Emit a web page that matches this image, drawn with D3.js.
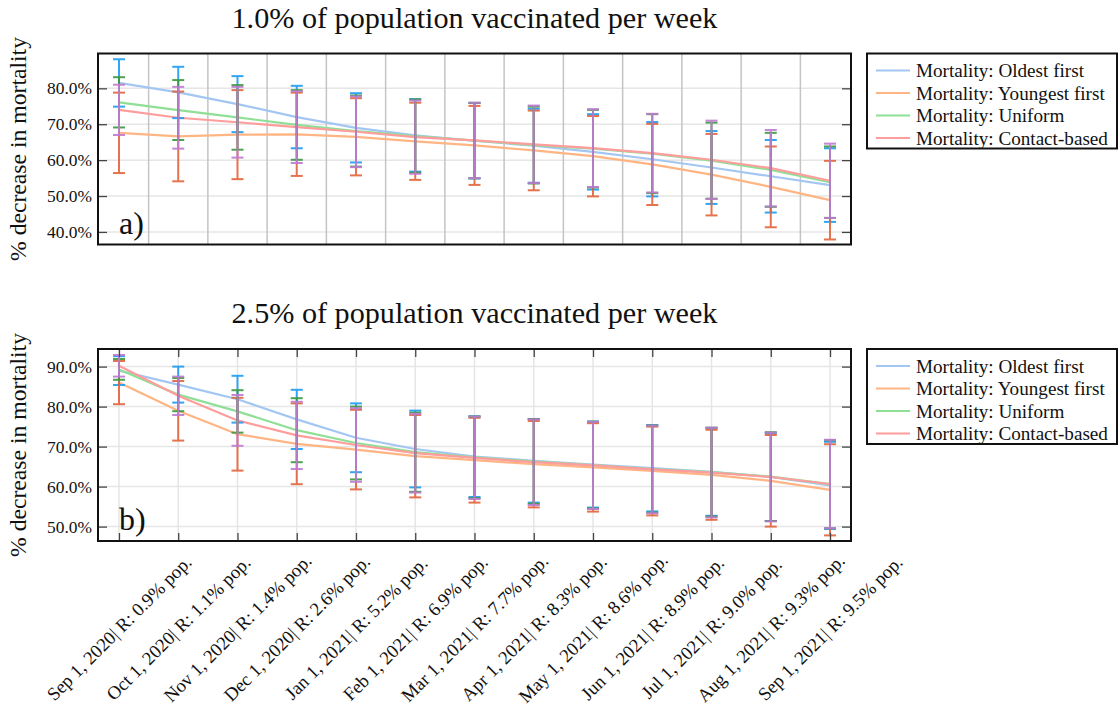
<!DOCTYPE html>
<html>
<head>
<meta charset="utf-8">
<script src="https://cdn.jsdelivr.net/npm/d3@7"></script>
<style>
  html, body { margin: 0; padding: 0; background: #fff; }
  svg { display: block; }
</style>
</head>
<body>
<svg id="chart" width="1119" height="709"></svg>
<script>
// Month labels with the share of the population already recovered (R)
const categories = [
  "Sep 1, 2020| R: 0.9% pop.", "Oct 1, 2020| R: 1.1% pop.", "Nov 1, 2020| R: 1.4% pop.",
  "Dec 1, 2020| R: 2.6% pop.", "Jan 1, 2021| R: 5.2% pop.", "Feb 1, 2021| R: 6.9% pop.",
  "Mar 1, 2021| R: 7.7% pop.", "Apr 1, 2021| R: 8.3% pop.", "May 1, 2021| R: 8.6% pop.",
  "Jun 1, 2021| R: 8.9% pop.", "Jul 1, 2021| R: 9.0% pop.", "Aug 1, 2021| R: 9.3% pop.",
  "Sep 1, 2021| R: 9.5% pop."
];

const seriesNames = [
  "Mortality: Oldest first", "Mortality: Youngest first",
  "Mortality: Uniform", "Mortality: Contact-based"
];

// 1.0% of population vaccinated per week: mean decrease and error half-width
const a_oldest    = [81.5, 78.85, 75.6, 72.0, 69.0, 66.9, 65.4, 64.0, 62.3, 60.25, 57.95, 55.5, 53.05];
const a_oldestErr = [6.6, 7.15, 7.8, 8.7, 9.65, 10.1, 10.5, 10.3, 10.5, 10.35, 10.15, 10.1, 10.25];
const a_young     = [67.6, 66.6, 67.1, 67.2, 66.5, 65.25, 64.1, 62.7, 61.1, 58.8, 55.95, 52.55, 48.85];
const a_youngErr  = [11.2, 12.5, 12.4, 11.6, 10.75, 10.75, 11.0, 11.1, 11.2, 11.3, 11.35, 11.25, 10.95];
const a_uniform   = [76.1, 73.95, 71.9, 69.8, 68.1, 66.7, 65.45, 64.2, 63.2, 61.8, 59.85, 57.3, 53.85];
const a_uniformErr= [7.0, 8.35, 9.0, 9.7, 9.9, 10.2, 10.5, 10.7, 10.8, 11.0, 10.6, 10.3, 9.95];
const a_contact   = [74.0, 71.8, 70.55, 69.2, 67.9, 66.4, 65.5, 64.4, 63.35, 61.95, 60.1, 57.75, 54.25];
const a_contactErr= [7.0, 8.6, 9.85, 10.0, 9.85, 10.2, 10.5, 10.8, 10.85, 10.95, 10.9, 10.65, 10.35];

// 2.5% of population vaccinated per week
const b_oldest    = [89.0, 85.5, 81.85, 76.8, 72.2, 69.4, 67.5, 66.45, 65.5, 64.6, 63.7, 62.4, 60.3];
const b_oldestErr = [3.6, 4.5, 5.85, 7.4, 8.6, 9.6, 10.1, 10.45, 10.75, 10.8, 11.0, 11.0, 10.9];
const b_young     = [86.0, 78.95, 73.1, 70.7, 69.25, 67.6, 66.6, 65.6, 64.8, 63.9, 62.95, 61.45, 59.2];
const b_youngErr  = [5.4, 7.45, 9.1, 10.1, 9.95, 10.3, 10.6, 10.8, 11.05, 11.1, 11.25, 11.45, 11.4];
const b_uniform   = [89.3, 83.0, 78.8, 74.1, 70.9, 68.6, 67.3, 66.3, 65.4, 64.4, 63.6, 62.5, 60.6];
const b_uniformErr= [2.6, 4.15, 5.3, 8.0, 9.1, 9.9, 10.2, 10.6, 10.85, 10.9, 11.1, 11.1, 11.0];
const b_contact   = [90.2, 82.7, 76.55, 72.8, 70.4, 68.35, 67.2, 66.1, 65.3, 64.3, 63.5, 62.4, 60.65];
const b_contactErr= [2.7, 4.8, 6.35, 8.4, 9.2, 9.85, 10.3, 10.7, 10.9, 10.95, 11.2, 11.1, 11.05];

const a_ticks = [40, 50, 60, 70, 80];
const b_ticks = [50, 60, 70, 80, 90];

const lineColors = ["#a3c6f2", "#ffb583", "#90df96", "#ff9c9c"];
const barColors  = ["#1c9cf2", "#e3643b", "#3a9a3e", "#c07ad2"];

// pick the first serif face that is actually installed
function pickFont(cands) {
  const ctx = document.createElement("canvas").getContext("2d");
  const probe = "Mortality: Youngest first 0.9%";
  ctx.font = "40px monospace";
  const base = ctx.measureText(probe).width;
  for (const f of cands) {
    ctx.font = `40px "${f}", monospace`;
    if (Math.abs(ctx.measureText(probe).width - base) > 0.5) return `"${f}", serif`;
  }
  return "serif";
}
const FONT = pickFont(["Liberation Serif", "DejaVu Serif", "Noto Serif", "Times New Roman", "FreeSerif"]);

// scale a text's font size so that its advance equals the given width
function fitWidth(sel, width) {
  sel.each(function () {
    const t = d3.select(this);
    const fs = parseFloat(t.style("font-size"));
    const w = this.getComputedTextLength();
    if (w > 0) t.style("font-size", (fs * width / w).toFixed(2) + "px");
  });
}

const svg = d3.select("#chart");
const left = 98, right = 851;

const x = d3.scalePoint().domain(categories).range([left, right]).padding(0.354);
const step = x.step();

function txt(parent) {
  return parent.append("text").style("font-family", FONT).attr("fill", "#111");
}

function drawPanel(cfg) {
  const y = d3.scaleLinear().domain(cfg.domain).range([cfg.bottom, cfg.top]);
  const g = svg.append("g");

  // horizontal grid
  g.selectAll(".hg").data(cfg.ticks).join("line")
    .attr("x1", left).attr("x2", right)
    .attr("y1", d => y(d)).attr("y2", d => y(d))
    .attr("stroke", "#e6e6e6").attr("stroke-width", 1.5);

  // vertical grid
  if (cfg.midGrid) {
    g.selectAll(".vg").data(categories.slice(0, -1)).join("line")
      .attr("x1", d => x(d) + step / 2).attr("x2", d => x(d) + step / 2)
      .attr("y1", cfg.top).attr("y2", cfg.bottom)
      .attr("stroke", "#c4c4c4").attr("stroke-width", 1.5);
  } else {
    g.selectAll(".vg").data(categories).join("line")
      .attr("x1", d => x(d)).attr("x2", d => x(d))
      .attr("y1", cfg.top).attr("y2", cfg.bottom)
      .attr("stroke", "#e6e6e6").attr("stroke-width", 1.5);
  }

  // mean lines
  const line = d3.line().x((d, i) => x(categories[i])).y(d => y(d));
  cfg.series.forEach((s, k) => {
    g.append("path").datum(s.mean)
      .attr("d", line).attr("fill", "none")
      .attr("stroke", lineColors[k]).attr("stroke-width", 2.2);
  });

  // error bars
  cfg.series.forEach((s, k) => {
    const eb = g.append("g").attr("stroke", barColors[k]).attr("stroke-width", 2).attr("opacity", 0.9);
    s.mean.forEach((m, i) => {
      const cx = x(categories[i]);
      const hi = y(m + s.err[i]), lo = y(m - s.err[i]);
      eb.append("line").attr("x1", cx).attr("x2", cx).attr("y1", hi).attr("y2", lo);
      eb.append("line").attr("x1", cx - 6).attr("x2", cx + 6).attr("y1", hi).attr("y2", hi);
      eb.append("line").attr("x1", cx - 6).attr("x2", cx + 6).attr("y1", lo).attr("y2", lo);
    });
  });

  // axes with inward ticks
  const yl = g.append("g").attr("transform", `translate(${left},0)`)
    .call(d3.axisRight(y).tickValues(cfg.ticks).tickSize(9).tickFormat(""));
  const yr = g.append("g").attr("transform", `translate(${right},0)`)
    .call(d3.axisLeft(y).tickValues(cfg.ticks).tickSize(9).tickFormat(""));
  [yl, yr].forEach(a => {
    a.select(".domain").remove();
    a.selectAll("line").attr("stroke", "#444").attr("stroke-width", 1.3);
  });
  cfg.ticks.forEach(d => {
    const t = txt(g).attr("x", left - 6).attr("y", y(d)).attr("dy", "0.35em")
      .attr("text-anchor", "end").style("font-size", "15px").text(d.toFixed(1) + "%");
    fitWidth(t, 45);
  });

  if (!cfg.midGrid) {
    const xt = g.append("g").attr("transform", `translate(0,${cfg.top})`)
      .call(d3.axisBottom(x).tickSize(8).tickFormat(""));
    const xb = g.append("g").attr("transform", `translate(0,${cfg.bottom})`)
      .call(d3.axisTop(x).tickSize(8).tickFormat(""));
    [xt, xb].forEach(a => {
      a.select(".domain").remove();
      a.selectAll("line").attr("stroke", "#444").attr("stroke-width", 1.3);
    });
  }

  // frame
  g.append("rect").attr("x", left).attr("y", cfg.top)
    .attr("width", right - left).attr("height", cfg.bottom - cfg.top)
    .attr("fill", "none").attr("stroke", "#111").attr("stroke-width", 2);

  // title
  const title = txt(svg).attr("x", (left + right) / 2).attr("y", cfg.top - 26)
    .attr("text-anchor", "middle").style("font-size", "26px").text(cfg.title);
  fitWidth(title, 486);

  // panel letter
  txt(svg).attr("x", 119).attr("y", cfg.bottom - 11)
    .style("font-size", "32px").text(cfg.letter);

  // y axis title
  const yt = txt(svg)
    .attr("transform", `translate(26,${(cfg.top + cfg.bottom) / 2}) rotate(-90)`)
    .attr("text-anchor", "middle").style("font-size", "19px")
    .text("% decrease in mortality");
  fitWidth(yt, 224);

  // legend
  const lg = svg.append("g").attr("transform", `translate(867,${cfg.top})`);
  lg.append("rect").attr("width", 250).attr("height", 95)
    .attr("fill", "#fff").attr("stroke", "#111").attr("stroke-width", 2);
  seriesNames.forEach((name, k) => {
    const ly = 17 + k * 22.5;
    lg.append("line").attr("x1", 9).attr("x2", 43).attr("y1", ly).attr("y2", ly)
      .attr("stroke", lineColors[k]).attr("stroke-width", 2.2);
    const t = txt(lg).attr("x", 49).attr("y", ly).attr("dy", "0.35em")
      .style("font-size", "16px").text(name);
    if (k === 3) fitWidth(t, 192);
    else t.style("font-size", null);
  });
  // all legend entries share the size fitted on the longest one
  const legSize = lg.selectAll("text").filter((d, i) => i === 3).style("font-size");
  lg.selectAll("text").style("font-size", legSize);
}

drawPanel({
  title: "1.0% of population vaccinated per week", letter: "a)",
  top: 53.5, bottom: 244.5, domain: [36.5, 89.7], ticks: a_ticks, midGrid: true,
  series: [
    { mean: a_oldest, err: a_oldestErr }, { mean: a_young, err: a_youngErr },
    { mean: a_uniform, err: a_uniformErr }, { mean: a_contact, err: a_contactErr }
  ]
});

drawPanel({
  title: "2.5% of population vaccinated per week", letter: "b)",
  top: 349, bottom: 541, domain: [46.4, 94.4], ticks: b_ticks, midGrid: false,
  series: [
    { mean: b_oldest, err: b_oldestErr }, { mean: b_young, err: b_youngErr },
    { mean: b_uniform, err: b_uniformErr }, { mean: b_contact, err: b_contactErr }
  ]
});

// rotated category labels under the lower panel
const xl = svg.append("g");
categories.forEach(c => {
  txt(xl).attr("transform", `translate(${x(c)},628) rotate(-45)`)
    .attr("text-anchor", "middle").attr("dy", "0.35em")
    .style("font-size", "15.5px").text(c);
});
const lastLab = xl.selectAll("text").filter((d, i) => i === categories.length - 1);
fitWidth(lastLab, 196);
xl.selectAll("text").style("font-size", lastLab.style("font-size"));
</script>
</body>
</html>
